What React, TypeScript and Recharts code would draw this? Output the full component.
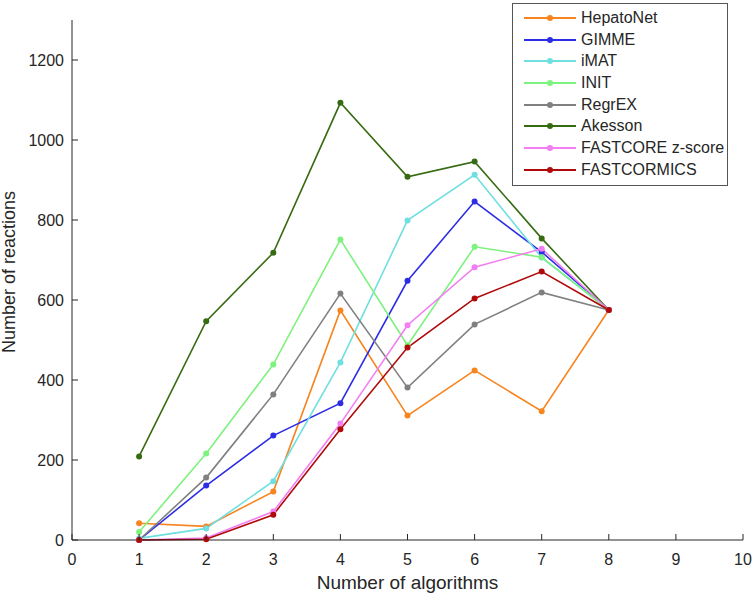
import { LineChart, Line, XAxis, YAxis, Label } from "recharts";

const algorithms = [1, 2, 3, 4, 5, 6, 7, 8];
const hepatoNet = [42, 34, 121, 574, 311, 424, 322, 575];
const gimme = [0, 136, 261, 342, 648, 846, 720, 575];
const imat = [4, 29, 147, 444, 799, 913, 706, 575];
const init = [20, 216, 439, 751, 487, 733, 707, 575];
const regrex = [0, 156, 364, 616, 381, 539, 619, 575];
const akesson = [209, 547, 718, 1093, 908, 946, 754, 575];
const fastcoreZ = [0, 5, 71, 291, 537, 682, 728, 575];
const fastcormics = [0, 2, 63, 277, 481, 604, 671, 575];

const xTicks = [0, 1, 2, 3, 4, 5, 6, 7, 8, 9, 10];
const yTicks = [0, 200, 400, 600, 800, 1000, 1200];

const series = [
  { key: "HepatoNet", values: hepatoNet, color: "#f7841f" },
  { key: "GIMME", values: gimme, color: "#2d2de6" },
  { key: "iMAT", values: imat, color: "#6fdfe0" },
  { key: "INIT", values: init, color: "#7ef27e" },
  { key: "RegrEX", values: regrex, color: "#808080" },
  { key: "Akesson", values: akesson, color: "#376b12" },
  { key: "FASTCORE z-score", values: fastcoreZ, color: "#f27ef2" },
  { key: "FASTCORMICS", values: fastcormics, color: "#b00a0a" },
];

const data = algorithms.map((x, i) => {
  const row: Record<string, number> = { x };
  series.forEach((s) => (row[s.key] = s.values[i]));
  return row;
});

const FONT = "'Liberation Sans', Arial, sans-serif";
const INK = "#262626";

const XTick = (props: any) => {
  const { x, y, payload } = props;
  return (
    <g>
      <line x1={x} y1={y} x2={x} y2={y - 6} stroke={INK} strokeWidth={1} />
      <text x={x} y={y + 25} textAnchor="middle" fontSize={16} fill={INK} fontFamily={FONT}>
        {payload.value}
      </text>
    </g>
  );
};

const YTick = (props: any) => {
  const { x, y, payload } = props;
  return (
    <g>
      <line x1={x} y1={y} x2={x + 6} y2={y} stroke={INK} strokeWidth={1} />
      <text x={x - 8} y={y + 6} textAnchor="end" fontSize={16} fill={INK} fontFamily={FONT}>
        {payload.value}
      </text>
    </g>
  );
};

// legend box drawn over the plot, top right (like a MATLAB legend)
const ChartLegend = () => (
  <div
    style={{
      position: "absolute",
      left: 512,
      top: 3,
      width: 214,
      height: 178,
      border: "1px solid #555",
      background: "#fff",
      paddingTop: 3,
    }}
  >
    {series.map((s) => (
      <div key={s.key} style={{ display: "flex", alignItems: "center", height: 21.7 }}>
        <svg width={68} height={10} style={{ flexShrink: 0 }}>
          <line x1={11} y1={5} x2={63} y2={5} stroke={s.color} strokeWidth={2} />
          <circle cx={37} cy={5} r={3} fill={s.color} />
        </svg>
        <span style={{ fontFamily: FONT, fontSize: 16, color: INK }}>{s.key}</span>
      </div>
    ))}
  </div>
);

export default function App() {
  return (
    <div style={{ position: "absolute", left: 0, top: 0, width: 756, height: 597, background: "#fff" }}>
      <LineChart
        width={756}
        height={597}
        data={data}
        margin={{ top: 20, right: 13, left: 12, bottom: 0 }}
      >
        <XAxis
          dataKey="x"
          type="number"
          domain={[0, 10]}
          ticks={xTicks}
          interval={0}
          height={57}
          tickSize={0}
          tickMargin={0}
          tickLine={false}
          tick={<XTick />}
          axisLine={{ stroke: INK, strokeWidth: 1 }}
        >
          <Label
            value="Number of algorithms"
            position="insideBottom"
            offset={8}
            style={{ fontFamily: FONT, fontSize: 19, fill: INK }}
          />
        </XAxis>
        <YAxis
          type="number"
          domain={[0, 1300]}
          ticks={yTicks}
          interval={0}
          width={60}
          tickSize={0}
          tickMargin={0}
          tickLine={false}
          tick={<YTick />}
          axisLine={{ stroke: INK, strokeWidth: 1 }}
        >
          <Label
            value="Number of reactions"
            angle={-90}
            position="insideLeft"
            offset={-3}
            dy={-8}
            style={{ fontFamily: FONT, fontSize: 18, fill: INK, textAnchor: "middle" }}
          />
        </YAxis>
        {series.map((s) => (
          <Line
            key={s.key}
            dataKey={s.key}
            stroke={s.color}
            strokeWidth={1.6}
            dot={{ r: 3, fill: s.color, stroke: s.color, strokeWidth: 0 }}
            activeDot={false}
            isAnimationActive={false}
            type="linear"
          />
        ))}
      </LineChart>
      <ChartLegend />
    </div>
  );
}
